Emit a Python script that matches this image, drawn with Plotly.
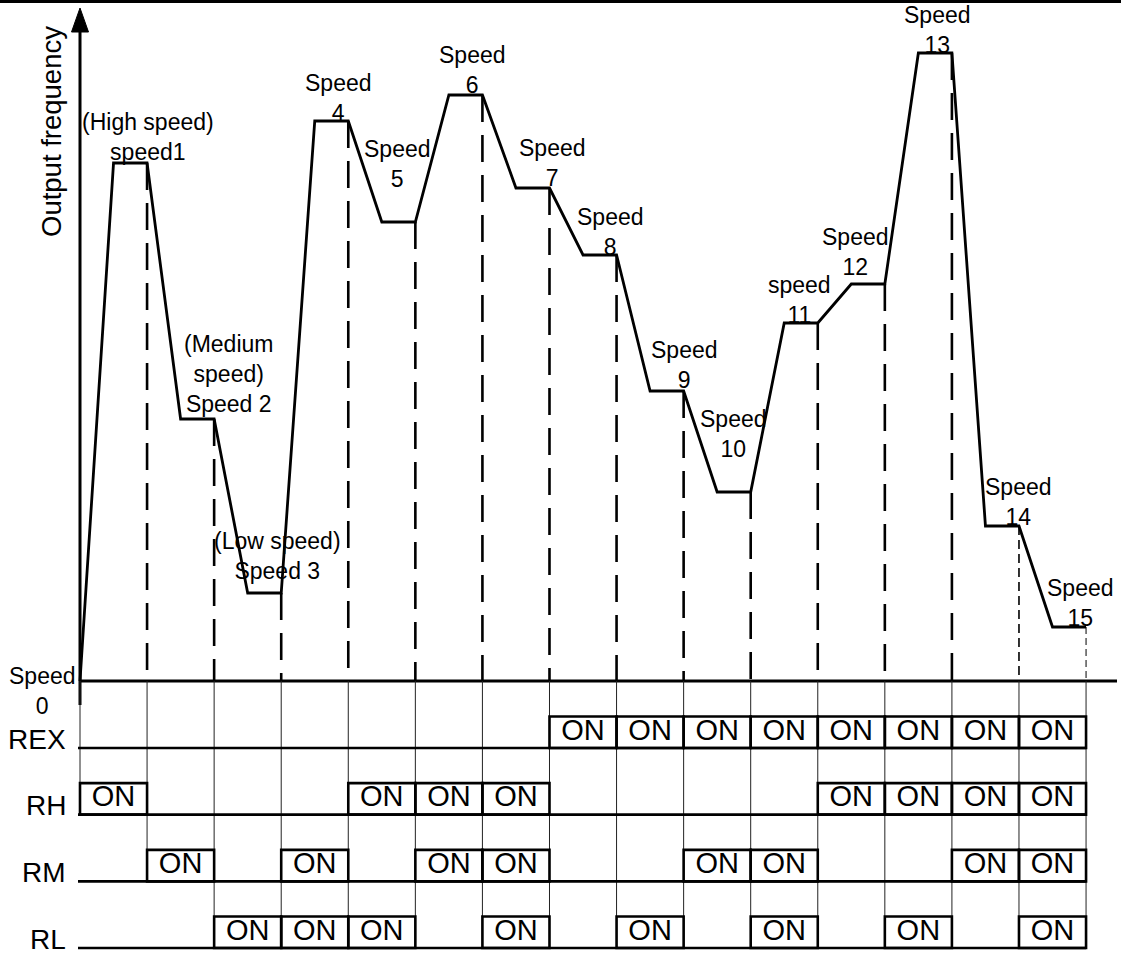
import plotly.graph_objects as go

# ---------------- data ----------------
# boundaries between speed steps (t = 0 .. 15)
steps = list(range(16))
# output frequency level reached in each step (relative units, speed 0 .. 15)
freq = [0, 51.8, 26.2, 8.8, 56.0, 45.9, 58.6, 49.3, 42.6, 29.0, 18.9, 35.8, 39.7, 62.8, 15.5, 5.4]
speed_labels = [
    "Speed<br>0", "(High speed)<br>speed1", "(Medium<br>speed)<br>Speed 2",
    "(Low speed)<br>Speed 3", "Speed<br>4", "Speed<br>5", "Speed<br>6", "Speed<br>7",
    "Speed<br>8", "Speed<br>9", "Speed<br>10", "speed<br>11", "Speed<br>12",
    "Speed<br>13", "Speed<br>14", "Speed<br>15",
]
relay_names = ["REX", "RH", "RM", "RL"]
# ON (1) / OFF (0) state of each relay for speed steps 1 .. 15
REX = [0, 0, 0, 0, 0, 0, 0, 1, 1, 1, 1, 1, 1, 1, 1]
RH = [1, 0, 0, 0, 1, 1, 1, 0, 0, 0, 0, 1, 1, 1, 1]
RM = [0, 1, 0, 1, 0, 1, 1, 0, 0, 1, 1, 0, 0, 1, 1]
RL = [0, 0, 1, 1, 1, 0, 1, 0, 1, 0, 1, 0, 1, 0, 1]
relays = [REX, RH, RM, RL]
on_text = "ON"
axis_title = "Output frequency"

# ---------------- layout / style ----------------
W, H = 1121, 953
PX_X, X0_PX = 67.07, 80.0      # pixels per step, pixel position of t=0
PX_Y, Y0_PX = 10.0, 681.0      # pixels per unit, pixel position of f=0
xr = [-X0_PX / PX_X, (W - X0_PX) / PX_X]
yr = [(Y0_PX - H) / PX_Y, Y0_PX / PX_Y]
px2x = 1.0 / PX_X
px2y = 1.0 / PX_Y

FONT = "Liberation Sans, Arial, sans-serif"
RAMP = 0.5
row_base = [-(748 - Y0_PX) * px2y - i * 66.67 * px2y for i in range(4)]
BOX_H = 31.5 * px2y
# label offsets (px) from plateau end: (dx, up)
label_off = [(-38, -10), (1, 26), (14, 45), (-4, 37), (-10, 23), (-18, 58), (-10, 25),
             (3, 25), (-6, 23), (1, 26), (-17, 58), (-18, 23), (-29, 32), (-14, 23),
             (0, 24), (-6, 24)]

shapes = []
annotations = []

def line(x0, y0, x1, y1, w=2.5, dash="solid", color="black"):
    shapes.append(dict(type="line", xref="x", yref="y", x0=x0, y0=y0, x1=x1, y1=y1,
                       line=dict(color=color, width=w, dash=dash), layer="above"))

# top border
shapes.append(dict(type="line", xref="paper", yref="paper", x0=0, x1=1,
                   y0=1 - 1.5 / H, y1=1 - 1.5 / H, line=dict(color="black", width=3)))

# frequency axis (vertical arrow) and time axis
tip_y = (Y0_PX - 8) / PX_Y
base_y = (Y0_PX - 32) / PX_Y
line(0, (Y0_PX - 705) / PX_Y, 0, base_y + 0.2, w=3)
shapes.append(dict(type="path", xref="x", yref="y",
                   path=f"M {-8.5*px2x} {base_y} L {8.5*px2x} {base_y} L 0 {tip_y} Z",
                   fillcolor="black", line=dict(color="black", width=1)))
line(0, 0, (1117 - X0_PX) / PX_X, 0, w=3)

# dashed lines from each plateau end down to the time axis
for k in steps[1:]:
    if k <= 13:
        w, d = 2.6, "27px,13px"
    elif k == 14:
        w, d = 1.6, "9px,5px"
    else:
        w, d = 1.0, "7px,4px"
    line(k, freq[k], k, 0, w=w, dash=d)

# thin boundary lines below the time axis
for k in steps:
    lowest = None
    for r, states in enumerate(relays):
        before = states[k - 1] if k >= 1 else 0
        after = states[k] if k < 15 else 0
        if before or after:
            lowest = r
    if lowest is not None:
        line(k, 0, k, row_base[lowest], w=1, color="#222")

# relay rows
for r, states in enumerate(relays):
    yb = row_base[r]
    line(-2 * px2x, yb, 15, yb, w=2.6)
    for i, s in enumerate(states):
        if s:
            shapes.append(dict(type="rect", xref="x", yref="y", x0=i, x1=i + 1,
                               y0=yb, y1=yb + BOX_H, line=dict(color="black", width=2.6),
                               layer="above"))
    annotations.append(dict(x=0, y=yb, xref="x", yref="y", text=relay_names[r],
                            showarrow=False, xanchor="right", yanchor="middle",
                            xshift=-12, yshift=9, font=dict(family=FONT, size=28, color="black")))

# speed profile
px_, py_ = [steps[0]], [freq[0]]
for k in steps[1:]:
    px_ += [k - 1 + RAMP, k]
    py_ += [freq[k], freq[k]]

traces = [go.Scatter(x=px_, y=py_, mode="lines", line=dict(color="black", width=2.8),
                     hoverinfo="skip")]

# ON texts
ox, oy = [], []
for r, states in enumerate(relays):
    for i, s in enumerate(states):
        if s:
            ox.append(i + 0.5)
            oy.append(row_base[r] + BOX_H / 2)
traces.append(go.Scatter(x=ox, y=oy, mode="text", text=[on_text] * len(ox),
                         textposition="middle center",
                         textfont=dict(family=FONT, size=29, color="black"),
                         hoverinfo="skip"))

# speed labels
for k in steps:
    dx, up = label_off[k]
    annotations.append(dict(x=k, y=freq[k], xref="x", yref="y", text=speed_labels[k],
                            showarrow=False, xanchor="center", yanchor="middle",
                            xshift=dx, yshift=up, align="center",
                            font=dict(family=FONT, size=23, color="black")))

# axis title
annotations.append(dict(x=51 / W, y=1 - 132 / H, xref="paper", yref="paper",
                        text=axis_title, textangle=-90, showarrow=False,
                        xanchor="center", yanchor="middle",
                        font=dict(family=FONT, size=27.5, color="black")))

fig = go.Figure(traces)
fig.update_layout(
    width=W, height=H, autosize=False,
    margin=dict(l=0, r=0, t=0, b=0, pad=0),
    paper_bgcolor="white", plot_bgcolor="white",
    showlegend=False,
    xaxis=dict(range=xr, visible=False, fixedrange=True),
    yaxis=dict(range=yr, visible=False, fixedrange=True),
    shapes=shapes, annotations=annotations,
)
fig.write_html("out.html", config={"displayModeBar": False},
               post_script="document.body.style.margin='0';document.body.style.overflow='hidden';")
